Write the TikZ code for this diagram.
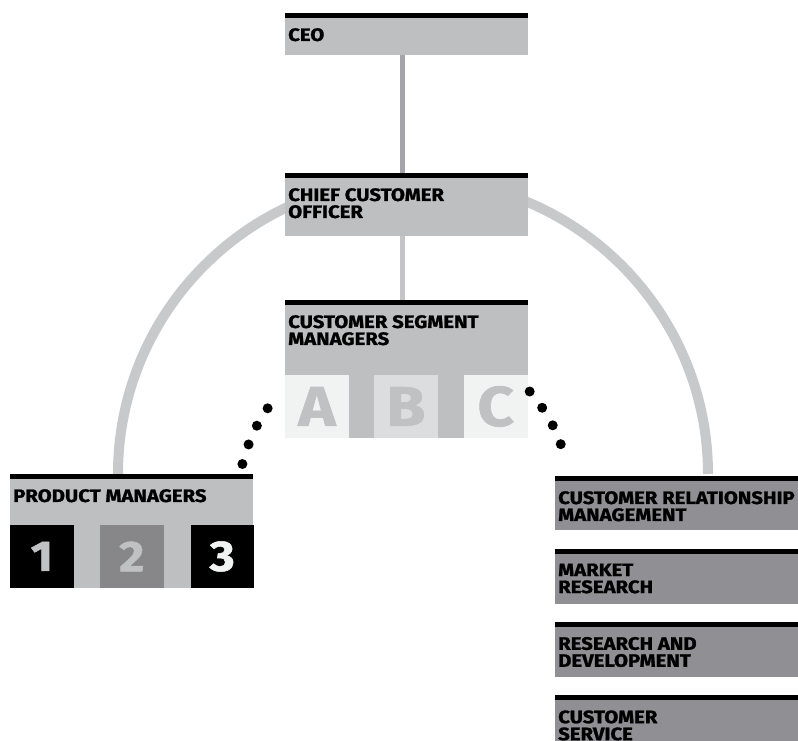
\documentclass[tikz,border=0pt]{standalone}
\usepackage{fontspec}
\setmainfont{Fira Sans}[FakeStretch=1.13, BoldFeatures={FakeBold=1.2}]
\usepackage{tikz}
\usetikzlibrary{positioning,backgrounds}
\definecolor{boxgray}{RGB}{190,191,193}
\definecolor{deptgray}{RGB}{144,144,148}
\definecolor{palegray}{RGB}{241,242,242}
\definecolor{midgray}{RGB}{220,221,222}
\definecolor{glyphgray}{RGB}{192,193,195}
\definecolor{digitgray}{RGB}{135,135,137}
\definecolor{ringgray}{RGB}{200,201,203}
\definecolor{linedark}{RGB}{165,164,171}
\definecolor{linelight}{RGB}{196,196,198}
\tikzset{
    unit/.style={
           rectangle,
           fill=boxgray,
           minimum width=243pt,
           inner sep=0pt,
           anchor=north west,
           path picture={\fill[black] (path picture bounding box.north west)
                rectangle ([yshift=-5pt]path picture bounding box.north east);},
           },
    dept/.style={unit, fill=deptgray},
    caption/.style={
           anchor=north west,
           inner xsep=3pt, inner ysep=15pt,
           align=left,
           font=\bfseries\fontsize{18}{17}\selectfont,
           },
    tile/.style={
           rectangle,
           minimum size=63.5pt,
           inner sep=0pt,
           anchor=north west,
           text=glyphgray,
           font=\bfseries\fontsize{56}{56}\selectfont,
           },
    numtile/.style={tile, fill=black, font=\bfseries\fontsize{43}{43}\selectfont},
    link/.style={line width=5pt},
    ring/.style={line width=10pt, draw=ringgray},
    dots/.style={line width=10pt, line cap=round, dash pattern=on 0pt off 20.5pt},
}

\begin{document}
\begin{tikzpicture}[x=1pt, y=-1pt]
    \useasboundingbox (0,0) rectangle (798,741);

    % top of the chart
    \node[unit, minimum height=42pt,
    label={[caption]north west:CEO}] (ceo) at (285,13) {};

    \node[unit, minimum height=63pt,
    label={[caption]north west:{CHIEF CUSTOMER\\OFFICER}}] (cco) at (285,173) {};

    \node[unit, minimum height=138pt,
    label={[caption]north west:{CUSTOMER SEGMENT\\MANAGERS}}] (csm) at (285,300) {};

    % segments A B C
    \node[tile, fill=palegray, anchor=south west] (seg-a) at (csm.south west) {A};
    \node[tile, fill=midgray, right=25pt of seg-a] (seg-b) {B};
    \node[tile, fill=palegray, right=26pt of seg-b] (seg-c) {C};

    % product managers with 1 2 3
    \node[unit, minimum height=114pt,
    label={[caption]north west:PRODUCT MANAGERS}] (pm) at (10,474) {};
    \node[numtile, anchor=south west] (pm-1) at (pm.south west) {1};
    \node[numtile, fill=digitgray, right=26pt of pm-1] (pm-2) {2};
    \node[numtile, text=palegray, right=26.5pt of pm-2] (pm-3) {3};

    % departments on the right
    \node[dept, minimum height=54pt,
    label={[caption]north west:{CUSTOMER RELATIONSHIP\\MANAGEMENT}}] (crm) at (555,476) {};
    \node[dept, minimum height=55pt, below=18pt of crm,
    label={[caption]north west:{MARKET\\RESEARCH}}] (mr) {};
    \node[dept, minimum height=55pt, below=18pt of mr,
    label={[caption]north west:{RESEARCH AND\\DEVELOPMENT}}] (rd) {};
    \node[dept, minimum height=50pt, below=18pt of rd,
    label={[caption]north west:{CUSTOMER\\SERVICE}}] (cs) {};

    % the lines between the boxes
    \draw[link, draw=linedark] ([xshift=-4.5pt]ceo.south) -- ([xshift=-4.5pt]cco.north);
    \draw[link, draw=linelight] ([xshift=-4.5pt]cco.south) -- ([xshift=-4.5pt]csm.north);

    \begin{pgfonlayer}{background}
        \draw[ring] ([xshift=108pt]pm.north west) arc[start angle=180, end angle=360, radius=295];
    \end{pgfonlayer}

    \draw[dots] ([shift={(-11,-10)}]pm.north east) to[bend left=12] ([shift={(-6,19)}]seg-a.north west);
    \draw[dots] ([shift={(2,17)}]seg-c.north east) to[bend left=12] ([shift={(11,-15)}]crm.north west);
\end{tikzpicture}
\end{document}
